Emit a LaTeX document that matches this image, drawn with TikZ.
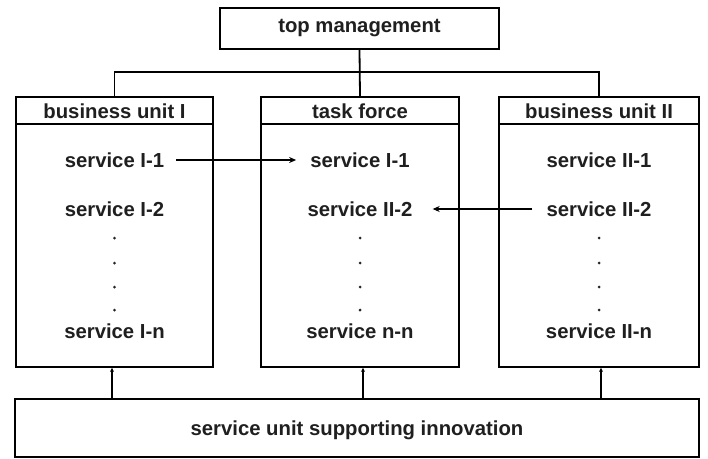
\documentclass[tikz,border=0pt]{standalone}
\usepackage{fontspec}
\setmainfont{Liberation Sans}
\usetikzlibrary{arrows.meta,calc}
\begin{document}
\begin{tikzpicture}[x=1pt,y=-1pt,
  box/.style={draw,line width=1.8pt,rectangle,inner sep=0pt},
  lbl/.style={font=\fontsize{20.3}{24}\selectfont\bfseries,inner sep=0pt,anchor=center,text=black!88},
  svc/.style={lbl},
  conn/.style={line width=1.8pt},
  arr/.style={line width=1.8pt,-{Stealth[length=7pt,width=6pt]}},
  uparr/.style={line width=1.8pt,-{Stealth[length=4pt,width=4pt]}},
  dotm/.style={circle,fill=black!85,inner sep=0pt,minimum size=3pt}]
\useasboundingbox (0,0) rectangle (708,458);
\fill[white] (0,0) rectangle (708,458);
% boxes
\node[box,minimum width=279pt,minimum height=41pt] (top) at (359.5,28.5) {};
\node[lbl] (toplbl) at (359.5,28.5) {top management};
\node[box,minimum width=197pt,minimum height=270pt] (bu1) at (114.5,232) {};
\node[box,minimum width=198pt,minimum height=270pt] (tf) at (360,232) {};
\node[box,minimum width=200pt,minimum height=270pt] (bu2) at (599,232) {};
\node[box,minimum width=684pt,minimum height=58pt] (bot) at (357,428) {};
\node[lbl] (botlbl) at (357,430) {service unit supporting innovation};
% header separators
\draw[conn] (bu1.west |- 0,124) -- (bu1.east |- 0,124);
\draw[conn] (tf.west |- 0,124) -- (tf.east |- 0,124);
\draw[conn] (bu2.west |- 0,124) -- (bu2.east |- 0,124);
\node[lbl] (h1) at (114.5,111) {business unit I};
\node[lbl] (h2) at (360,111) {task force};
\node[lbl] (h3) at (599,111) {business unit II};
% services
\node[svc] (a1) at (114.5,160) {service I-1};
\node[svc] (a2) at (114.5,209) {service I-2};
\node[svc] (an) at (114.5,331) {service I-n};
\node[svc] (b1) at (360,160) {service I-1};
\node[svc] (b2) at (360,209) {service II-2};
\node[svc] (bn) at (360,331) {service n-n};
\node[svc] (c1) at (599,160) {service II-1};
\node[svc] (c2) at (599,209) {service II-2};
\node[svc] (cn) at (599,331) {service II-n};
% dots
\foreach \xx/\nm in {114.5/a,360/b,599/c}{
  \foreach \yy [count=\k] in {238,263,287,310}{
    \node[dotm] (\nm d\k) at (\xx,\yy) {};
  }
}
% tree connectors
\coordinate (jl) at (bu1.north |- 0,72);
\coordinate (jr) at (bu2.north |- 0,72);
\draw[conn] (top.south) -- (tf.north);
\draw[conn] (bu1.north) -- (jl) -- (jr) -- (bu2.north);
% horizontal arrows
\draw[arr,shorten <=12pt,shorten >=14pt] (a1.east) -- (b1.west);
\draw[arr,shorten <=14pt,shorten >=20pt] (c2.west) -- (b2.east);
% up arrows
\draw[uparr] ($(bu1.south |- bot.north)+(-2.5,0)$) -- ($(bu1.south)+(-2.5,0)$);
\draw[uparr] ($(tf.south |- bot.north)+(3,0)$) -- ($(tf.south)+(3,0)$);
\draw[uparr] ($(bu2.south |- bot.north)+(2,0)$) -- ($(bu2.south)+(2,0)$);
\end{tikzpicture}
\end{document}
